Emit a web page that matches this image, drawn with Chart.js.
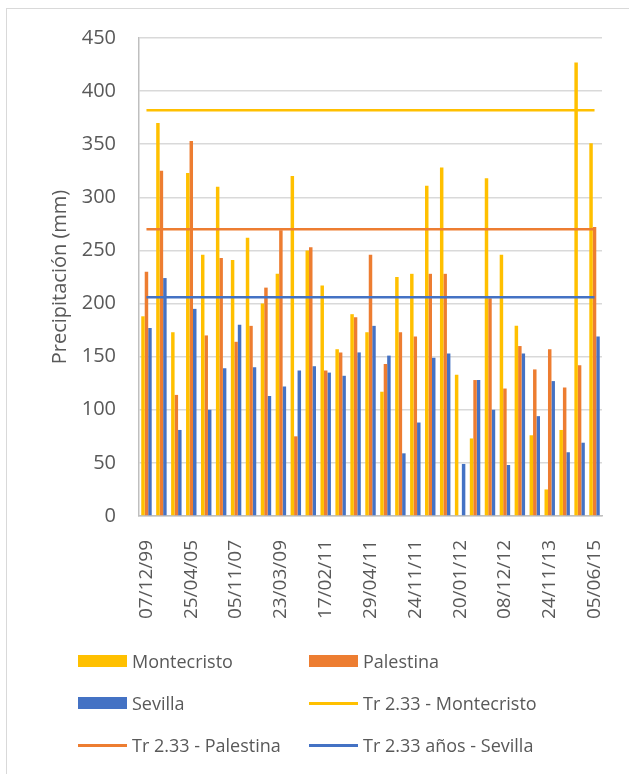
<!DOCTYPE html>
<html>
<head>
<meta charset="utf-8">
<script src="https://cdn.jsdelivr.net/npm/chart.js@4.4.0/dist/chart.umd.min.js"></script>
<style>
  body { margin: 0; background: #ffffff; }
  #wrap { position: relative; width: 629px; height: 774px; overflow: hidden; font-family: 'Open Sans', sans-serif; }
  #frame { position: absolute; left: 6px; top: 8px; width: 700px; height: 800px; border-left: 1px solid #d9d9d9; border-top: 1px solid #d9d9d9; }
  canvas { position: absolute; left: 0; top: 0; }
  .item { position: absolute; height: 24px; line-height: 24px; font-size: 18px; color: #595959; white-space: nowrap; }
  .item .mk { position: absolute; left: 0; width: 49px; }
  .item .tx { position: absolute; left: 54px; top: 0; }
</style>
</head>
<body>
<div id="wrap">
  <div id="frame"></div>
  <canvas id="myChart" width="629" height="774"></canvas>
  <div id="legend"></div>
</div>
<script>
// categories (only every third date is printed on the axis)
var fechas = ['07/12/99', '', '', '25/04/05', '', '', '05/11/07', '', '', '23/03/09', '', '',
              '17/02/11', '', '', '29/04/11', '', '', '24/11/11', '', '', '20/01/12', '', '',
              '08/12/12', '', '', '24/11/13', '', '', '05/06/15'];

// precipitation values (mm)
var montecristo = [188, 370, 173, 323, 246, 310, 241, 262, 200, 228, 320, 250, 217, 157, 190, 173,
                   117, 225, 228, 311, 328, 133, 73, 318, 246, 179, 76, 25, 81, 427, 351];
var palestina = [230, 325, 114, 353, 170, 243, 164, 179, 215, 269, 75, 253, 137, 154, 187, 246,
                 143, 173, 169, 228, 228, 0, 128, 205, 120, 160, 138, 157, 121, 142, 272];
var sevilla = [177, 224, 81, 195, 100, 139, 180, 140, 113, 122, 137, 141, 135, 132, 154, 179,
               151, 59, 88, 149, 153, 49, 128, 100, 48, 153, 94, 127, 60, 69, 169];

// return period Tr 2.33 levels
var trMontecristo = 382;
var trPalestina = 270;
var trSevilla = 206;

var yTicks = [0, 50, 100, 150, 200, 250, 300, 350, 400, 450];

var nombres = ['Montecristo', 'Palestina', 'Sevilla',
               'Tr 2.33 - Montecristo', 'Tr 2.33 - Palestina', 'Tr 2.33 años - Sevilla'];

var amarillo = '#FFC000', naranja = '#ED7D31', azul = '#4472C4';

function constante(v) {
	return fechas.map(function () { return v; });
}

Chart.defaults.font.family = "'Open Sans', sans-serif";
Chart.defaults.color = '#595959';

const ctx = document.getElementById('myChart').getContext('2d');
const myChart = new Chart(ctx, {
	type: 'bar',
	data: {
		labels: fechas,
		datasets: [
			{ label: nombres[0], data: montecristo, backgroundColor: amarillo, order: 1 },
			{ label: nombres[1], data: palestina, backgroundColor: naranja, order: 1 },
			{ label: nombres[2], data: sevilla, backgroundColor: azul, order: 1 },
			{ type: 'line', label: nombres[3], data: constante(trMontecristo), borderColor: amarillo, borderWidth: 2.5, pointRadius: 0, order: 0 },
			{ type: 'line', label: nombres[4], data: constante(trPalestina), borderColor: naranja, borderWidth: 2.5, pointRadius: 0, order: 0 },
			{ type: 'line', label: nombres[5], data: constante(trSevilla), borderColor: azul, borderWidth: 2.5, pointRadius: 0, order: 0 }
		]
	},
	options: {
		responsive: false,
		animation: false,
		layout: { padding: { left: 0, top: 38, right: 27, bottom: 0 } },
		datasets: { bar: { categoryPercentage: 0.7, barPercentage: 1.0 } },
		plugins: { legend: { display: false }, tooltip: { enabled: false } },
		scales: {
			x: {
				grid: { display: false },
				border: { display: true, color: '#bfbfbf', width: 1.5 },
				ticks: { autoSkip: false, minRotation: 90, maxRotation: 90, padding: 16, font: { size: 19 }, color: '#595959' },
				afterFit: function (scale) {
					scale.height = 258;
					scale.paddingLeft = 0;
					scale.paddingRight = 0;
				}
			},
			y: {
				min: 0,
				max: 450,
				afterBuildTicks: function (scale) { scale.ticks = yTicks.map(function (v) { return { value: v }; }); },
				grid: { color: '#d9d9d9', lineWidth: 1.5, drawTicks: false },
				border: { display: true, color: '#bfbfbf', width: 1.5 },
				ticks: { padding: 23, font: { size: 20 }, color: '#595959' },
				title: { display: true, text: 'Precipitación (mm)', font: { size: 20 }, color: '#595959', padding: { top: 48, bottom: 0 } },
				afterFit: function (scale) { scale.width = 139; }
			}
		}
	}
});

// legend, two columns like the original
var legend = document.getElementById('legend');
var colores = [amarillo, naranja, azul, amarillo, naranja, azul];
var colX = [78, 309];
var rowY = [661, 703, 745];
nombres.forEach(function (nombre, i) {
	var d = document.createElement('div');
	d.className = 'item';
	d.style.left = colX[i % 2] + 'px';
	d.style.top = (rowY[Math.floor(i / 2)] - 12) + 'px';
	var mk = document.createElement('span');
	mk.className = 'mk';
	mk.style.background = colores[i];
	if (i < 3) { mk.style.top = '6px'; mk.style.height = '12px'; }
	else { mk.style.top = '11px'; mk.style.height = '3px'; }
	var tx = document.createElement('span');
	tx.className = 'tx';
	tx.textContent = nombre;
	d.appendChild(mk);
	d.appendChild(tx);
	legend.appendChild(d);
});
</script>
</body>
</html>
